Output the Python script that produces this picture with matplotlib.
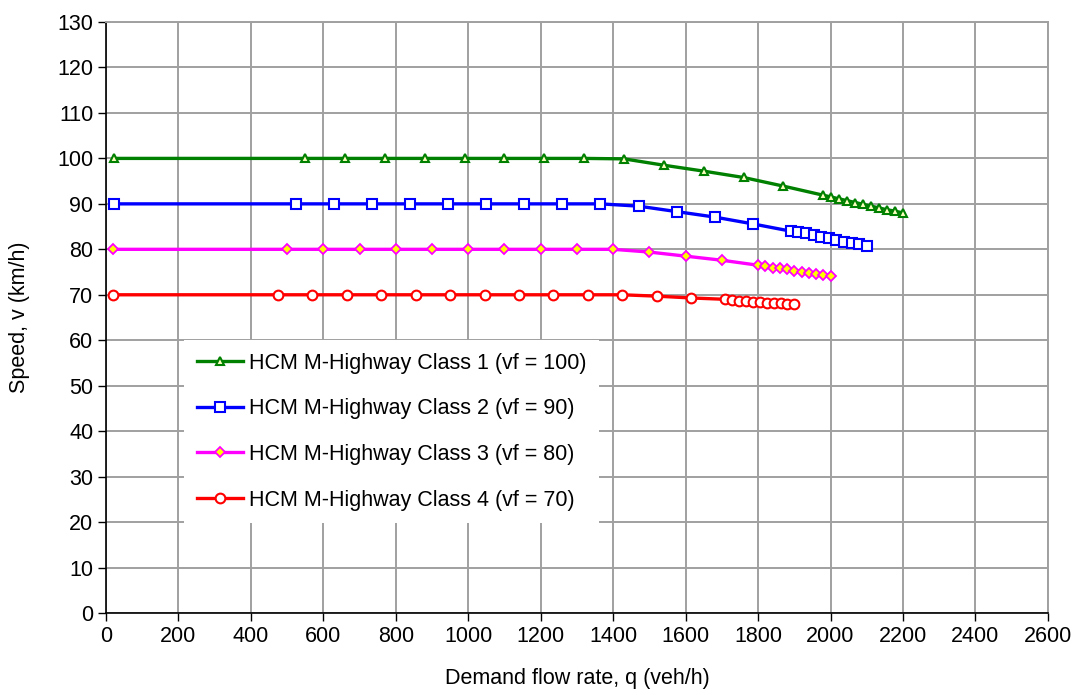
import matplotlib
matplotlib.use("Agg")
import matplotlib.pyplot as plt

plt.rcParams["font.family"] = ["Liberation Sans", "DejaVu Sans"]

# Class 1 (vf = 100)
q1 = [22, 550, 660, 770, 880, 990, 1100, 1210, 1320, 1430, 1540, 1650, 1760,
      1870, 1980, 2002, 2024, 2046, 2068, 2090, 2112, 2134, 2156, 2178, 2200]
v1 = [100, 100, 100, 100, 100, 100, 100, 100, 100, 99.9, 98.5, 97.2, 95.8,
      93.9, 91.9, 91.5, 91.1, 90.7, 90.3, 89.9, 89.5, 89.1, 88.7, 88.4, 88.0]

# Class 2 (vf = 90)
q2 = [21, 525, 630, 735, 840, 945, 1050, 1155, 1260, 1365, 1470, 1575, 1680,
      1785, 1890, 1911, 1932, 1953, 1974, 1995, 2016, 2037, 2058, 2079, 2100]
v2 = [90, 90, 90, 90, 90, 90, 90, 90, 90, 90, 89.5, 88.3, 87.1,
      85.6, 84.0, 83.8, 83.5, 83.1, 82.8, 82.4, 82.1, 81.7, 81.5, 81.2, 80.8]

# Class 3 (vf = 80)
q3 = [20, 500, 600, 700, 800, 900, 1000, 1100, 1200, 1300, 1400, 1500, 1600,
      1700, 1800, 1820, 1840, 1860, 1880, 1900, 1920, 1940, 1960, 1980, 2000]
v3 = [80, 80, 80, 80, 80, 80, 80, 80, 80, 80, 80, 79.4, 78.5,
      77.6, 76.5, 76.3, 76.0, 75.8, 75.6, 75.3, 75.1, 74.9, 74.6, 74.4, 74.1]

# Class 4 (vf = 70)
q4 = [19, 475, 570, 665, 760, 855, 950, 1045, 1140, 1235, 1330, 1425, 1520,
      1615, 1710, 1729, 1748, 1767, 1786, 1805, 1824, 1843, 1862, 1881, 1900]
v4 = [70, 70, 70, 70, 70, 70, 70, 70, 70, 70, 70, 70.0, 69.7,
      69.3, 69.0, 68.9, 68.7, 68.6, 68.5, 68.4, 68.3, 68.2, 68.1, 68.0, 67.9]

labels = [
    "HCM M-Highway Class 1 (vf = 100)",
    "HCM M-Highway Class 2 (vf = 90)",
    "HCM M-Highway Class 3 (vf = 80)",
    "HCM M-Highway Class 4 (vf = 70)",
]

fig = plt.figure(figsize=(10.79, 6.95), dpi=100)
ax = fig.add_axes([0.0982, 0.118, 0.873, 0.8503])

ax.plot(q1, v1, color="#008000", lw=2.4, marker="^", ms=6,
        mfc="#ffffc0", mec="#008000", mew=1.5, label=labels[0])
ax.plot(q2, v2, color="#0000ff", lw=2.4, marker="s", ms=7,
        mfc="white", mec="#0000ff", mew=1.5, label=labels[1])
ax.plot(q3, v3, color="#ff00ff", lw=2.4, marker="D", ms=5,
        mfc="#ffff00", mec="#ff00ff", mew=1.3, label=labels[2])
ax.plot(q4, v4, color="#ff0000", lw=2.4, marker="o", ms=7,
        mfc="white", mec="#ff0000", mew=1.5, label=labels[3])

ax.set_xlim(0, 2600)
ax.set_ylim(0, 130)
ax.set_xticks(range(0, 2601, 200))
ax.set_yticks(range(0, 131, 10))
ax.grid(True, color="#a0a0a0", lw=1.4)
ax.set_axisbelow(True)

for s in ["top", "right"]:
    ax.spines[s].set_color("#a0a0a0")
    ax.spines[s].set_linewidth(1.4)
for s in ["left", "bottom"]:
    ax.spines[s].set_color("black")
    ax.spines[s].set_linewidth(1.2)

ax.tick_params(direction="out", length=6, width=1, labelsize=15.5, colors="black")
ax.tick_params(axis="y", pad=3)
ax.set_xlabel("Demand flow rate, q (veh/h)", fontsize=15.5, labelpad=15)
ax.set_ylabel("Speed, v (km/h)", fontsize=15.5, labelpad=20)

leg = ax.legend(loc="upper left", bbox_to_anchor=(0.083, 0.462), fontsize=15.5,
                frameon=True, facecolor="white", edgecolor="none", framealpha=1,
                fancybox=False, handlelength=2.15, labelspacing=1.14,
                borderpad=0.6, handletextpad=0.25, borderaxespad=0)

fig.savefig("out.png", dpi=100)
plt.close()
